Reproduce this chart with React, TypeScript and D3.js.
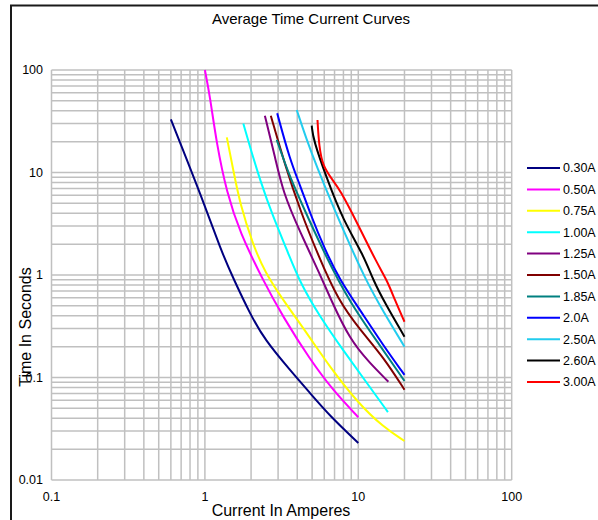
import * as d3 from 'd3'

const width = 598
const height = 520

// rated currents shown in the legend, and their line colours
const ratings = ['0.30A', '0.50A', '0.75A', '1.00A', '1.25A', '1.50A', '1.85A', '2.0A', '2.50A', '2.60A', '3.00A']
const colors = ['#000080', '#ff00ff', '#ffff00', '#00ffff', '#800080', '#800000', '#008080', '#0000ff', '#22ccee', '#000000', '#ff0000']

// current (A) / time (s) readings for each curve
const amps030 = [0.6, 0.97, 1.27, 1.53, 1.97, 2.46, 3.59, 4.84, 6.54, 10]
const secs030 = [33, 5.4, 1.75, 0.93, 0.417, 0.232, 0.118, 0.0706, 0.042, 0.023]
const amps050 = [1.0, 1.08, 1.19, 1.39, 1.69, 2.39, 3.23, 4.84, 6.84, 10]
const secs050 = [100, 55, 19.4, 6.3, 2.6, 0.89, 0.39, 0.15, 0.075, 0.041]
const amps075 = [1.39, 1.53, 1.69, 2.06, 2.46, 3.23, 4.63, 6.54, 10, 14.5, 20]
const secs075 = [22, 10.6, 5.0, 1.96, 1.07, 0.57, 0.27, 0.126, 0.056, 0.033, 0.024]
const amps100 = [1.78, 1.97, 2.29, 2.78, 3.43, 4.17, 5.63, 7.95, 11.4, 15.6]
const secs100 = [30, 17.7, 8.4, 3.7, 1.75, 0.84, 0.39, 0.185, 0.088, 0.046]
const amps125 = [2.46, 2.86, 3.24, 4.17, 5.77, 6.54, 8.83, 11.9, 15.7]
const secs125 = [35.8, 14.3, 6.3, 2.63, 0.935, 0.6, 0.232, 0.138, 0.091]
const amps150 = [2.69, 3.33, 4.17, 5.46, 7.37, 10.3, 14.6, 20]
const secs150 = [35.8, 11.8, 4.31, 1.57, 0.57, 0.29, 0.158, 0.076]
const amps185 = [2.94, 3.48, 4.17, 6.07, 8.83, 13.8, 20]
const secs185 = [20.8, 10.1, 5.39, 1.57, 0.533, 0.207, 0.0925]
const amps200 = [2.96, 3.59, 4.17, 4.84, 6.07, 7.6, 10.26, 14.5, 20]
const secs200 = [37.8, 13.2, 7.55, 4.03, 1.75, 0.89, 0.456, 0.207, 0.106]
const amps250 = [3.97, 4.61, 5.36, 6.87, 8.83, 11.2, 14.6, 20]
const secs250 = [40.7, 20.8, 11.4, 4.61, 1.96, 0.89, 0.435, 0.2]
const amps260 = [4.97, 5.09, 6.22, 7.95, 10.8, 12.5, 14.9, 20]
const secs260 = [28.6, 20.8, 8.84, 3.44, 1.57, 0.89, 0.533, 0.25]
const amps300 = [5.42, 5.55, 5.88, 6.87, 7.6, 9.77, 13.2, 15.5, 17.3, 20]
const secs300 = [32.5, 17.9, 11.4, 8.26, 6.75, 3.29, 1.31, 0.873, 0.57, 0.35]

const ampsList = [amps030, amps050, amps075, amps100, amps125, amps150, amps185, amps200, amps250, amps260, amps300]
const secsList = [secs030, secs050, secs075, secs100, secs125, secs150, secs185, secs200, secs250, secs260, secs300]

const xTickLabels = ['0.1', '1', '10', '100']
const yTickLabels = ['100', '10', '1', '0.1', '0.01']

const x = d3.scaleLog().domain([0.1, 100]).range([51.5, 511.7])
const y = d3.scaleLog().domain([0.01, 100]).range([480, 70])
const legendY = d3.scalePoint<string>().domain(ratings).range([168, 382])

const curve = d3.line<[number, number]>()
  .x(d => x(d[0]))
  .y(d => y(d[1]))
  .curve(d3.curveBasis)

function App() {
  const xGrid = x.ticks()
  const yGrid = y.ticks()

  return (
    <svg width={width} height={height} style={{ position: 'absolute', left: 0, top: 0 }}
      fontFamily="'Liberation Sans', Arial, sans-serif">
      <rect x={0} y={0} width={width} height={height} fill="#fff" />
      <rect x={11} y={5.5} width={width + 20} height={height + 20} fill="none" stroke="#1a1a1a" strokeWidth={2} />

      <text x={311} y={24} textAnchor="middle" fontSize={15} fill="#000">Average Time Current Curves</text>

      <g stroke="#c0c0c0" strokeWidth={1.5}>
        {xGrid.map((t, i) => (
          <line key={'x' + i} x1={x(t)} x2={x(t)} y1={y.range()[0]} y2={y.range()[1]} />
        ))}
        {yGrid.map((t, i) => (
          <line key={'y' + i} x1={x.range()[0]} x2={x.range()[1]} y1={y(t)} y2={y(t)} />
        ))}
      </g>

      {yTickLabels.map(l => (
        <text key={l} x={43} y={y(+l)} dy="0.35em" textAnchor="end" fontSize={12.5}>{l}</text>
      ))}
      {xTickLabels.map(l => (
        <text key={l} x={x(+l)} y={501} textAnchor="middle" fontSize={12.5}>{l}</text>
      ))}

      <g fill="none" strokeWidth={2}>
        {ratings.map((r, i) => (
          <path key={r} stroke={colors[i]}
            d={curve(ampsList[i].map((a, j) => [a, secsList[i][j]] as [number, number])) || ''} />
        ))}
      </g>

      <text x={281} y={516} textAnchor="middle" fontSize={16}>Current In Amperes</text>
      <text transform="translate(31,327) rotate(-90)" textAnchor="middle" fontSize={16}>Time In Seconds</text>

      {ratings.map((r, i) => (
        <g key={r} transform={`translate(0,${legendY(r)})`}>
          <line x1={527} x2={560} y1={0} y2={0} stroke={colors[i]} strokeWidth={2} />
          <text x={563} y={0} dy="0.35em" fontSize={12.5}>{r}</text>
        </g>
      ))}
    </svg>
  )
}

export default App
